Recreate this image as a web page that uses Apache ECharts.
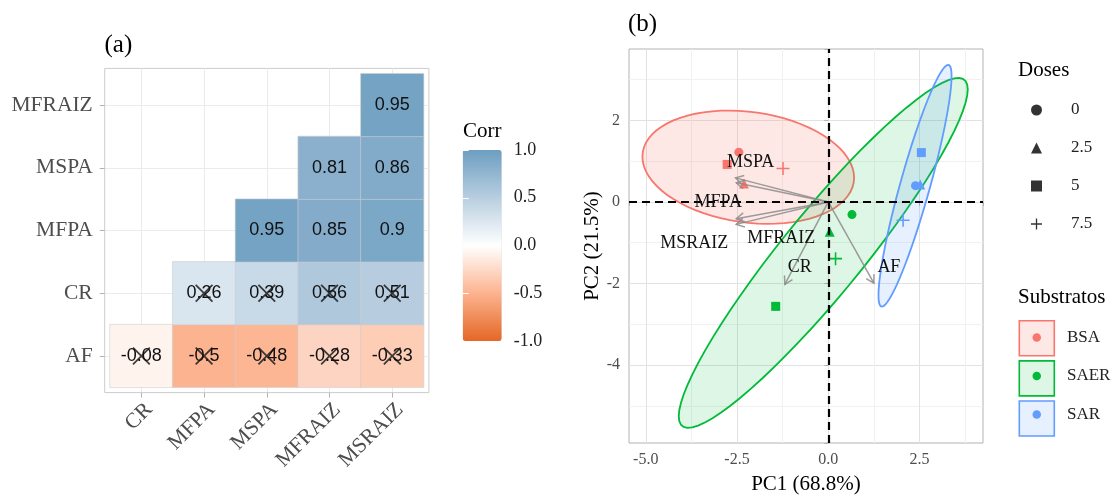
<!DOCTYPE html>
<html><head><meta charset="utf-8">
<script src="https://cdn.jsdelivr.net/npm/echarts@6/dist/echarts.min.js"></script>
<style>html,body{margin:0;padding:0;background:#fff}#c{width:1113px;height:495px}</style>
</head><body><div id="c"></div>
<script>
// ================= DATA =================
// (a) correlation matrix (lower triangle, diagonal removed)
const corrCols = ['CR', 'MFPA', 'MSPA', 'MFRAIZ', 'MSRAIZ'];
const corrRows = ['AF', 'CR', 'MFPA', 'MSPA', 'MFRAIZ']; // bottom -> top
const corrAF     = [-0.08, -0.5, -0.48, -0.28, -0.33];
const corrCR     = [null, 0.26, 0.39, 0.56, 0.51];
const corrMFPA   = [null, null, 0.95, 0.85, 0.9];
const corrMSPA   = [null, null, null, 0.81, 0.86];
const corrMFRAIZ = [null, null, null, null, 0.95];
// non-significant cells (crossed out)
const insigAF = [true, true, true, true, true];
const insigCR = [false, true, true, true, true];
const corrTicks = [-1, -0.5, 0, 0.5, 1];

// (b) PCA biplot — individuals, order of doses: 0, 2.5, 5, 7.5
const doses = ['0', '2.5', '5', '7.5'];
const substratos = ['BSA', 'SAER', 'SAR'];
const pc1BSA  = [-2.45, -2.31, -2.77, -1.24];
const pc2BSA  = [1.22, 0.45, 0.92, 0.82];
const pc1SAER = [0.65, 0.04, -1.44, 0.20];
const pc2SAER = [-0.31, -0.73, -2.56, -1.39];
const pc1SAR  = [2.39, 2.52, 2.55, 2.05];
const pc2SAR  = [0.40, 0.43, 1.21, -0.45];
// variables (arrows)
const varNames = ['MSPA', 'MFPA', 'MSRAIZ', 'MFRAIZ', 'CR', 'AF'];
const loadPC1  = [-2.54, -2.52, -2.52, -2.52, -1.19, 1.25];
const loadPC2  = [0.59, 0.47, -0.55, -0.41, -2.02, -1.99];
const pcaXRange = [-5.46, 4.24];
const pcaYRange = [-5.91, 3.75];

// ================= STYLE / LAYOUT =================
const SERIF = 'Liberation Serif';
const SANS = 'Liberation Sans';
const groupColors = ['#F8766D', '#00BA38', '#619CFF'];
const groupFills = ['rgba(248,118,109,0.17)', 'rgba(0,186,56,0.13)', 'rgba(97,156,255,0.15)'];
const PLUS = 'path://M4.4,0H5.6V4.4H10V5.6H5.6V10H4.4V5.6H0V4.4H4.4Z';
const XMARK = 'path://M0,0.7L0.7,0L5,4.3L9.3,0L10,0.7L5.7,5L10,9.3L9.3,10L5,5.7L0.7,10L0,9.3L4.3,5Z';
const doseSymbols = ['circle', 'triangle', 'rect', PLUS];
const doseSizes = [9, 10, 9, 13];
// label offsets (px) of variable names relative to arrow tips (repelled labels)
const labelOffsets = [[15, -16], [-18, 19], [-42, 19], [45, 20], [15, -17], [15, -16]];

const P_LEFT = 104.7, P_TOP = 68.4, P_SIZE = 324.2, INSET = 5.3;
const CELL = (P_SIZE - 2 * INSET) / 5;
const GM = 0.5 + INSET / CELL;

// ================= BUILD =================
const corrMatrix = [corrAF, corrCR, corrMFPA, corrMSPA, corrMFRAIZ];
const heatData = [];
corrMatrix.forEach((row, r) => row.forEach((v, c) => { if (v !== null) heatData.push([c, r, v]); }));
const insigMatrix = [insigAF, insigCR];
const xMarks = [];
insigMatrix.forEach((row, r) => row.forEach((f, c) => { if (f) xMarks.push([c, r]); }));

const pc1 = [pc1BSA, pc1SAER, pc1SAR];
const pc2 = [pc2BSA, pc2SAER, pc2SAR];

// 95% normal data ellipse (as ggplot2::stat_ellipse(type = "norm"))
const QF95_2_3 = 9.552094; // qf(0.95, 2, n-1) with n = 4
function ellipse(xs, ys) {
  const n = xs.length;
  const mx = xs.reduce((a, b) => a + b, 0) / n, my = ys.reduce((a, b) => a + b, 0) / n;
  let sxx = 0, syy = 0, sxy = 0;
  for (let i = 0; i < n; i++) { sxx += (xs[i] - mx) ** 2; syy += (ys[i] - my) ** 2; sxy += (xs[i] - mx) * (ys[i] - my); }
  sxx /= n - 1; syy /= n - 1; sxy /= n - 1;
  const r11 = Math.sqrt(sxx), r12 = sxy / r11, r22 = Math.sqrt(syy - r12 * r12);
  const rad = Math.sqrt(2 * QF95_2_3);
  const pts = [];
  for (let k = 0; k <= 72; k++) {
    const a = 2 * Math.PI * k / 72;
    pts.push([mx + rad * Math.cos(a) * r11, my + rad * (Math.cos(a) * r12 + Math.sin(a) * r22)]);
  }
  return pts;
}

const series = [];
// 0: heatmap
series.push({
  type: 'heatmap', xAxisIndex: 1, yAxisIndex: 1, data: heatData, z: 2,
  itemStyle: { borderColor: '#cfcfcf', borderWidth: 0.6 },
  label: { show: true, formatter: p => String(p.value[2]), fontFamily: SANS, fontSize: 18, color: '#111' },
  emphasis: { disabled: true }
});
// 1: crosses
series.push({
  type: 'scatter', xAxisIndex: 1, yAxisIndex: 1, data: xMarks, symbol: XMARK, symbolSize: 18,
  itemStyle: { color: '#111' }, silent: true, z: 5, emphasis: { disabled: true }
});
// ellipses
substratos.forEach((g, gi) => {
  const pts = ellipse(pc1[gi], pc2[gi]);
  series.push({
    type: 'custom', name: g, xAxisIndex: 3, yAxisIndex: 4, data: [[0, 0]], clip: true, silent: true, z: 1,
    itemStyle: { color: groupColors[gi] },
    renderItem: (params, api) => ({
      type: 'polygon', shape: { points: pts.map(p => api.coord(p)) },
      style: { fill: groupFills[gi], stroke: groupColors[gi], lineWidth: 1.8 }
    })
  });
});
// zero lines
series.push({
  type: 'line', name: 'zero', xAxisIndex: 3, yAxisIndex: 4, data: [], silent: true, z: 2,
  markLine: {
    silent: true, symbol: ['none', 'none'], label: { show: false }, animation: false,
    lineStyle: { color: '#000', type: [8, 5], width: 2.2 },
    emphasis: { disabled: true },
    data: [{ xAxis: 0 }, { yAxis: 0 }]
  }
});
// points
substratos.forEach((g, gi) => {
  series.push({
    type: 'scatter', name: g, xAxisIndex: 3, yAxisIndex: 4, z: 3,
    itemStyle: { color: groupColors[gi], opacity: 1 },
    emphasis: { disabled: true },
    data: doses.map((d, di) => ({ value: [pc1[gi][di], pc2[gi][di]], symbol: doseSymbols[di], symbolSize: doseSizes[di] }))
  });
});
// dummy series for the dose legend
doses.forEach(d => series.push({ type: 'scatter', name: d, xAxisIndex: 3, yAxisIndex: 4, data: [], itemStyle: { color: '#000' } }));
// arrows
series.push({
  type: 'custom', name: 'vars', xAxisIndex: 3, yAxisIndex: 4, z: 4, silent: true,
  data: varNames.map((n, i) => [loadPC1[i], loadPC2[i], i]),
  renderItem: (params, api) => {
    const o = api.coord([0, 0]);
    const t = api.coord([api.value(0), api.value(1)]);
    const ang = Math.atan2(t[1] - o[1], t[0] - o[0]);
    const L = 9, A = Math.PI / 6;
    const h1 = [t[0] - L * Math.cos(ang - A), t[1] - L * Math.sin(ang - A)];
    const h2 = [t[0] - L * Math.cos(ang + A), t[1] - L * Math.sin(ang + A)];
    return {
      type: 'group', children: [
        { type: 'line', shape: { x1: o[0], y1: o[1], x2: t[0], y2: t[1] }, style: { stroke: 'rgba(140,140,140,0.85)', lineWidth: 1.5 } },
        { type: 'polyline', shape: { points: [h1, t, h2] }, style: { stroke: 'rgba(140,140,140,0.85)', lineWidth: 1.5, fill: null } }
      ]
    };
  }
});
// variable labels
series.push({
  type: 'custom', name: 'varlabels', xAxisIndex: 3, yAxisIndex: 4, z: 6, silent: true,
  data: varNames.map((n, i) => [loadPC1[i], loadPC2[i], i]),
  renderItem: (params, api) => {
    const t = api.coord([api.value(0), api.value(1)]);
    const i = api.value(2);
    return {
      type: 'text', x: t[0] + labelOffsets[i][0], y: t[1] + labelOffsets[i][1],
      style: { text: varNames[i], fontFamily: SERIF, fontSize: 18, fill: '#111', align: 'center', verticalAlign: 'middle' }
    };
  }
});

const tickLabelStyle = { fontFamily: SERIF, color: '#4d4d4d' };
const option = {
  animation: false,
  backgroundColor: '#fff',
  title: [
    { text: '(a)', left: 104.5, top: 33, padding: 0, textStyle: { fontFamily: SERIF, fontSize: 25, fontWeight: 'normal', color: '#000' } },
    { text: '(b)', left: 628, top: 12, padding: 0, textStyle: { fontFamily: SERIF, fontSize: 25, fontWeight: 'normal', color: '#000' } },
    { text: 'Corr', left: 463, top: 121, padding: 0, textStyle: { fontFamily: SERIF, fontSize: 21, fontWeight: 'normal', color: '#000' } },
    { text: 'Doses', left: 1018, top: 59.5, padding: 0, textStyle: { fontFamily: SERIF, fontSize: 21, fontWeight: 'normal', color: '#000' } },
    { text: 'Substratos', left: 1018, top: 287, padding: 0, textStyle: { fontFamily: SERIF, fontSize: 21, fontWeight: 'normal', color: '#000' } }
  ],
  grid: [
    { left: P_LEFT, top: P_TOP, width: P_SIZE, height: P_SIZE, show: true, borderColor: '#cccccc', borderWidth: 1, backgroundColor: 'transparent', containLabel: false, outerBoundsMode: 'none' },
    { left: P_LEFT + INSET, top: P_TOP + INSET, width: P_SIZE - 2 * INSET, height: P_SIZE - 2 * INSET, containLabel: false, outerBoundsMode: 'none' },
    { left: 462.7, top: 150, width: 39, height: 191, containLabel: false, outerBoundsMode: 'none' },
    { left: 629, top: 49, width: 354, height: 394, show: true, borderColor: '#b3b3b3', borderWidth: 1, backgroundColor: 'transparent', containLabel: false, outerBoundsMode: 'none' }
  ],
  xAxis: [
    { type: 'value', gridIndex: 0, min: -GM, max: 4 + GM, minInterval: 1, maxInterval: 1, axisLine: { show: false }, axisTick: { show: false }, axisLabel: { show: false },
      splitLine: { show: true, showMinLine: false, showMaxLine: false, lineStyle: { color: '#ebebeb', width: 1 } } },
    { type: 'category', gridIndex: 1, data: corrCols, offset: INSET, axisLine: { show: false },
      axisTick: { show: true, alignWithLabel: true, length: 5, lineStyle: { color: '#b3b3b3' } },
      axisLabel: Object.assign({ rotate: 45, margin: 6, fontSize: 21.5, interval: 0, verticalAlign: 'top' }, tickLabelStyle), splitLine: { show: false } },
    { type: 'value', gridIndex: 2, show: false, min: 0, max: 1 },
    { type: 'value', gridIndex: 3, min: pcaXRange[0], max: pcaXRange[1], minInterval: 2.5, maxInterval: 2.5, splitNumber: 4,
      axisLine: { show: false }, axisTick: { show: true, length: 4, lineStyle: { color: '#b3b3b3' } },
      axisLabel: Object.assign({ margin: 9, fontSize: 16, formatter: v => (Math.abs(v / 2.5 - Math.round(v / 2.5)) < 1e-6 ? v.toFixed(1) : '') }, tickLabelStyle),
      splitLine: { show: true, showMinLine: false, showMaxLine: false, lineStyle: { color: '#e2e2e2', width: 1 } },
      minorTick: { show: false, splitNumber: 2 }, minorSplitLine: { show: true, lineStyle: { color: '#f1f1f1', width: 1 } },
      name: 'PC1 (68.8%)', nameLocation: 'middle', nameGap: 31, nameTextStyle: { fontFamily: SERIF, fontSize: 21, color: '#000' } }
  ],
  yAxis: [
    { type: 'value', gridIndex: 0, min: -GM, max: 4 + GM, minInterval: 1, maxInterval: 1, axisLine: { show: false }, axisTick: { show: false }, axisLabel: { show: false },
      splitLine: { show: true, showMinLine: false, showMaxLine: false, lineStyle: { color: '#ebebeb', width: 1 } } },
    { type: 'category', gridIndex: 1, data: corrRows, offset: INSET, axisLine: { show: false },
      axisTick: { show: true, alignWithLabel: true, length: 5, lineStyle: { color: '#b3b3b3' } },
      axisLabel: Object.assign({ margin: 12, fontSize: 21.5, interval: 0 }, tickLabelStyle), splitLine: { show: false } },
    { type: 'value', gridIndex: 2, min: corrTicks[0], max: corrTicks[4], interval: 0.5, position: 'right', z: 10,
      axisLine: { show: false }, axisTick: { show: true, inside: true, length: 6, lineStyle: { color: '#ffffff', width: 1 } },
      axisLabel: { margin: 12, fontFamily: SERIF, fontSize: 18, color: '#222', formatter: v => v.toFixed(1) }, splitLine: { show: false } },
    { type: 'value', gridIndex: 2, min: corrTicks[0], max: corrTicks[4], interval: 0.5, position: 'left', z: 10,
      axisLine: { show: false }, axisTick: { show: true, inside: true, length: 6, lineStyle: { color: '#ffffff', width: 1 } },
      axisLabel: { show: false }, splitLine: { show: false } },
    { type: 'value', gridIndex: 3, min: pcaYRange[0], max: pcaYRange[1], minInterval: 2, maxInterval: 2,
      axisLine: { show: false }, axisTick: { show: true, length: 4, lineStyle: { color: '#b3b3b3' } },
      axisLabel: Object.assign({ margin: 9, fontSize: 16, formatter: v => (Math.abs(v / 2 - Math.round(v / 2)) < 1e-6 ? String(Math.round(v)) : '') }, tickLabelStyle),
      splitLine: { show: true, showMinLine: false, showMaxLine: false, lineStyle: { color: '#e2e2e2', width: 1 } },
      minorTick: { show: false, splitNumber: 2 }, minorSplitLine: { show: true, lineStyle: { color: '#f1f1f1', width: 1 } },
      name: 'PC2 (21.5%)', nameLocation: 'middle', nameGap: 26, nameRotate: 90, nameTextStyle: { fontFamily: SERIF, fontSize: 21, color: '#000' } }
  ],
  visualMap: {
    type: 'continuous', min: -1, max: 1, seriesIndex: 0, dimension: 2, calculable: false, show: true, orient: 'vertical',
    left: 462.7, top: 150, itemWidth: 39, itemHeight: 191, padding: 0, text: null, showLabel: false, hoverLink: false,
    inRange: { color: ['#E46726', '#FCB390', '#FFFFFF', '#B8CEE0', '#6D9EC1'] }
  },
  legend: [
    { orient: 'vertical', left: 1031, top: 101.5, padding: 0, itemGap: 21, itemWidth: 11, itemHeight: 11, selectedMode: false,
      data: doses.map((d, i) => ({ name: d, icon: doseSymbols[i], itemStyle: { color: '#000' } })),
      formatter: n => '{t|' + n + '}',
      textStyle: { fontFamily: SERIF, fontSize: 17, color: '#222', rich: { t: { fontFamily: SERIF, fontSize: 17, color: '#222', padding: [0, 0, 0, 24] } } } },
    { orient: 'vertical', left: 1018.5, top: 320, padding: 0, itemGap: 3.5, itemWidth: 35, itemHeight: 35, selectedMode: false,
      data: substratos.map((g, i) => ({ name: g, icon: 'rect', itemStyle: { color: groupFills[i], borderColor: groupColors[i], borderWidth: 1.6 } })),
      formatter: () => '', textStyle: { fontSize: 10 } },
    { orient: 'vertical', left: 1032.5, top: 329, padding: 0, itemGap: 21.5, itemWidth: 8.5, itemHeight: 8.5, selectedMode: false,
      data: substratos.map((g, i) => ({ name: g, icon: 'circle', itemStyle: { color: groupColors[i], borderWidth: 0 } })),
      formatter: n => '{t|' + n + '}',
      textStyle: { fontFamily: SERIF, fontSize: 17, color: '#222', rich: { t: { fontFamily: SERIF, fontSize: 17, color: '#222', padding: [0, 0, 0, 21] } } } }
  ],
  series: series
};
const chart = echarts.init(document.getElementById('c'), null, { renderer: 'canvas' });
chart.setOption(option);
</script>
</body></html>
